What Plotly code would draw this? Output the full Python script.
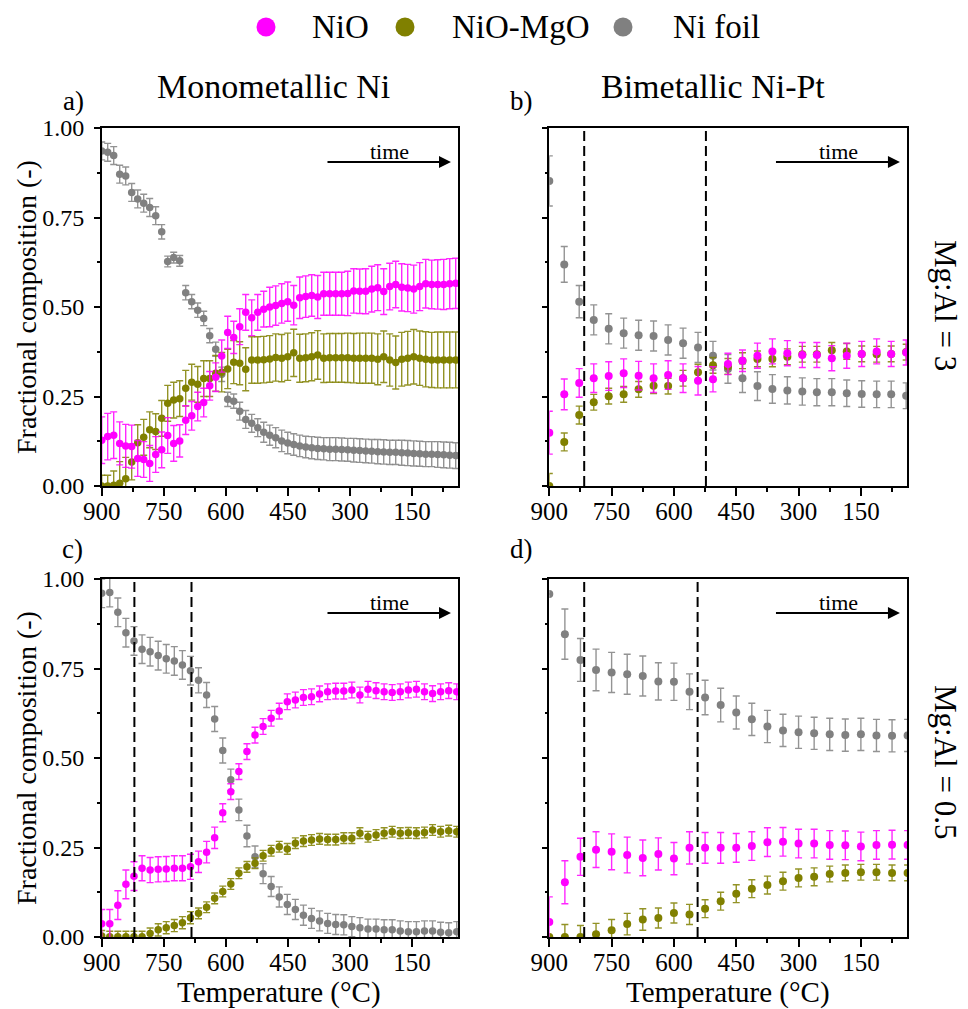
import plotly.graph_objects as go

# ---------------- data ----------------
# Panel a: Monometallic Ni, Mg:Al = 3
T_a = [900, 885.5, 871, 856.5, 842, 827.5, 813, 798.5, 784, 769.5, 755, 740.5, 726, 711.5, 697,
       682.5, 668, 653.5, 639, 624.5, 610, 595.5, 581, 566.5, 552, 537.5, 523, 508.5, 494, 479.5,
       465, 450.5, 436, 421.5, 407, 392.5, 378, 363.5, 349, 334.5, 320, 305.5, 291, 276.5, 262,
       247.5, 233, 218.5, 204, 189.5, 175, 160.5, 146, 131.5, 117, 102.5, 88, 73.5, 59, 44.5]
nio_a = [0.128, 0.138, 0.142, 0.119, 0.112, 0.110, 0.077, 0.074, 0.063, 0.088, 0.101, 0.141, 0.119, 0.126, 0.184,
         0.196, 0.222, 0.233, 0.280, 0.304, 0.363, 0.429, 0.415, 0.445, 0.485, 0.470, 0.485, 0.494, 0.500, 0.504,
         0.510, 0.515, 0.505, 0.526, 0.529, 0.532, 0.528, 0.537, 0.537, 0.537, 0.537, 0.538, 0.545, 0.544, 0.544,
         0.550, 0.554, 0.543, 0.557, 0.563, 0.555, 0.553, 0.550, 0.557, 0.565, 0.563, 0.563, 0.563, 0.565, 0.566]
nio_a_err = [0.065, 0.065, 0.065, 0.06, 0.06, 0.06, 0.05, 0.05, 0.05, 0.05, 0.05, 0.05, 0.05, 0.045, 0.04,
             0.04, 0.04, 0.04, 0.04, 0.04, 0.045, 0.045, 0.045, 0.05, 0.05, 0.05, 0.05, 0.05, 0.055, 0.055,
             0.055, 0.055, 0.055, 0.058, 0.058, 0.058, 0.06, 0.06, 0.06, 0.06, 0.06, 0.062, 0.062, 0.062, 0.063,
             0.064, 0.064, 0.064, 0.065, 0.065, 0.066, 0.066, 0.067, 0.067, 0.068, 0.068, 0.069, 0.07, 0.07, 0.07]
mgo_a = [0.000, 0.000, 0.002, 0.008, 0.020, 0.067, 0.121, 0.136, 0.157, 0.152, 0.189, 0.231, 0.240, 0.244, 0.273,
         0.290, 0.284, 0.300, 0.300, 0.315, 0.318, 0.327, 0.346, 0.343, 0.326, 0.352, 0.352, 0.353, 0.355, 0.359,
         0.357, 0.361, 0.372, 0.357, 0.358, 0.361, 0.366, 0.357, 0.358, 0.358, 0.358, 0.358, 0.357, 0.357, 0.357,
         0.357, 0.354, 0.361, 0.352, 0.345, 0.354, 0.357, 0.361, 0.357, 0.354, 0.352, 0.352, 0.352, 0.352, 0.352]
mgo_a_err = [0.03, 0.03, 0.04, 0.06, 0.06, 0.05, 0.05, 0.05, 0.05, 0.05, 0.05, 0.05, 0.05, 0.05, 0.05,
             0.05, 0.05, 0.05, 0.05, 0.05, 0.055, 0.055, 0.06, 0.06, 0.06, 0.065, 0.065, 0.065, 0.065, 0.066,
             0.066, 0.066, 0.066, 0.067, 0.067, 0.067, 0.068, 0.068, 0.068, 0.068, 0.068, 0.069, 0.069, 0.07, 0.07,
             0.07, 0.071, 0.072, 0.073, 0.074, 0.075, 0.075, 0.076, 0.076, 0.077, 0.077, 0.078, 0.078, 0.078, 0.078]
foil_a = [0.936, 0.932, 0.923, 0.871, 0.866, 0.820, 0.802, 0.790, 0.778, 0.755, 0.710, 0.627, 0.638, 0.629, 0.540,
          0.515, 0.491, 0.468, 0.420, 0.382, 0.312, 0.242, 0.237, 0.209, 0.186, 0.175, 0.163, 0.150, 0.142, 0.135,
          0.126, 0.120, 0.116, 0.112, 0.109, 0.107, 0.105, 0.104, 0.103, 0.103, 0.102, 0.101, 0.100, 0.099, 0.098,
          0.097, 0.096, 0.095, 0.094, 0.094, 0.093, 0.092, 0.091, 0.090, 0.089, 0.089, 0.088, 0.087, 0.086, 0.085]
foil_a_err = [0.025, 0.025, 0.025, 0.025, 0.025, 0.025, 0.025, 0.025, 0.025, 0.025, 0.02, 0.015, 0.015, 0.015, 0.02,
              0.02, 0.02, 0.02, 0.02, 0.02, 0.02, 0.02, 0.02, 0.025, 0.025, 0.025, 0.025, 0.028, 0.028, 0.028,
              0.03, 0.03, 0.03, 0.03, 0.03, 0.031, 0.031, 0.031, 0.032, 0.032, 0.032, 0.032, 0.033, 0.033, 0.033,
              0.033, 0.034, 0.034, 0.034, 0.034, 0.035, 0.035, 0.035, 0.035, 0.035, 0.035, 0.036, 0.036, 0.036, 0.036]

# Panel b: Bimetallic Ni-Pt, Mg:Al = 3
T_b = [900, 864, 828, 793, 757, 721, 685, 649, 614, 578, 542, 506, 470, 435, 399, 363, 327, 291, 256,
       220, 184, 148, 112, 77, 41]
nio_b = [0.149, 0.256, 0.288, 0.301, 0.307, 0.315, 0.308, 0.301, 0.310, 0.301, 0.294, 0.298, 0.341, 0.350,
         0.364, 0.376, 0.371, 0.366, 0.366, 0.357, 0.364, 0.369, 0.376, 0.369, 0.373]
nio_b_err = [0.06, 0.043, 0.04, 0.04, 0.04, 0.04, 0.04, 0.04, 0.04, 0.04, 0.04, 0.035, 0.03, 0.03, 0.035,
             0.035, 0.035, 0.035, 0.035, 0.035, 0.035, 0.035, 0.035, 0.035, 0.035]
mgo_b = [0.000, 0.123, 0.198, 0.234, 0.251, 0.256, 0.270, 0.280, 0.279, 0.301, 0.318, 0.337, 0.334, 0.350,
         0.355, 0.355, 0.361, 0.368, 0.368, 0.379, 0.376, 0.369, 0.368, 0.369, 0.374]
mgo_b_err = [0.035, 0.025, 0.025, 0.022, 0.022, 0.022, 0.022, 0.022, 0.022, 0.022, 0.022, 0.022, 0.022, 0.022,
             0.022, 0.022, 0.022, 0.022, 0.022, 0.022, 0.022, 0.022, 0.022, 0.022, 0.022]
foil_b = [0.852, 0.619, 0.515, 0.464, 0.439, 0.427, 0.421, 0.419, 0.408, 0.399, 0.387, 0.364, 0.327, 0.301,
          0.279, 0.271, 0.267, 0.264, 0.262, 0.262, 0.259, 0.257, 0.256, 0.256, 0.252]
foil_b_err = [0.07, 0.05, 0.045, 0.042, 0.042, 0.042, 0.042, 0.042, 0.042, 0.042, 0.042, 0.04, 0.04, 0.04,
              0.04, 0.04, 0.038, 0.038, 0.038, 0.038, 0.037, 0.037, 0.037, 0.037, 0.036]

# Panel c: Monometallic Ni, Mg:Al = 0.5
T_c = [900, 880.5, 861, 841.5, 822, 802.5, 783, 763.5, 744, 724.5, 705, 685.5, 666, 646.5, 627,
       607.5, 588, 568.5, 549, 529.5, 510, 490.5, 471, 451.5, 432, 412.5, 393, 373.5, 354, 334.5,
       315, 295.5, 276, 256.5, 237, 217.5, 198, 178.5, 159, 139.5, 120, 100.5, 81, 61.5, 42]
nio_c = [0.037, 0.037, 0.089, 0.147, 0.170, 0.192, 0.187, 0.189, 0.190, 0.192, 0.192, 0.196, 0.210, 0.237, 0.277,
         0.347, 0.406, 0.462, 0.518, 0.564, 0.588, 0.611, 0.631, 0.657, 0.662, 0.669, 0.671, 0.679, 0.685, 0.687,
         0.687, 0.690, 0.676, 0.692, 0.688, 0.685, 0.683, 0.685, 0.690, 0.692, 0.685, 0.680, 0.685, 0.688, 0.685]
nio_c_err = [0.04, 0.04, 0.04, 0.04, 0.04, 0.035, 0.035, 0.035, 0.035, 0.035, 0.035, 0.035, 0.03, 0.03, 0.03,
             0.025, 0.022, 0.022, 0.022, 0.022, 0.022, 0.022, 0.022, 0.022, 0.022, 0.022, 0.022, 0.022, 0.022, 0.022,
             0.022, 0.022, 0.022, 0.022, 0.022, 0.022, 0.022, 0.022, 0.022, 0.022, 0.022, 0.022, 0.022, 0.022, 0.022]
mgo_c = [0.003, 0.001, 0.001, 0.001, 0.001, 0.001, 0.010, 0.020, 0.026, 0.032, 0.040, 0.054, 0.066, 0.083, 0.108,
         0.127, 0.148, 0.178, 0.196, 0.206, 0.227, 0.241, 0.252, 0.246, 0.262, 0.268, 0.271, 0.274, 0.272, 0.272,
         0.276, 0.276, 0.290, 0.280, 0.285, 0.290, 0.294, 0.290, 0.291, 0.290, 0.292, 0.299, 0.294, 0.297, 0.294]
mgo_c_err = [0.015, 0.015, 0.015, 0.015, 0.015, 0.015, 0.015, 0.017, 0.017, 0.017, 0.017, 0.017, 0.015, 0.015, 0.015,
             0.015, 0.015, 0.015, 0.015, 0.015, 0.015, 0.015, 0.015, 0.015, 0.015, 0.015, 0.015, 0.015, 0.015, 0.015,
             0.015, 0.015, 0.015, 0.015, 0.015, 0.015, 0.015, 0.015, 0.015, 0.015, 0.015, 0.015, 0.015, 0.015, 0.015]
foil_c = [0.960, 0.962, 0.907, 0.850, 0.827, 0.804, 0.797, 0.786, 0.777, 0.771, 0.760, 0.744, 0.717, 0.676, 0.609,
          0.521, 0.439, 0.355, 0.282, 0.224, 0.177, 0.141, 0.112, 0.091, 0.077, 0.061, 0.052, 0.045, 0.038, 0.035,
          0.034, 0.029, 0.026, 0.022, 0.022, 0.020, 0.020, 0.017, 0.015, 0.015, 0.017, 0.017, 0.013, 0.012, 0.015]
foil_c_err = [0.04, 0.04, 0.04, 0.04, 0.04, 0.04, 0.04, 0.04, 0.04, 0.04, 0.04, 0.04, 0.035, 0.035, 0.035,
              0.035, 0.03, 0.03, 0.03, 0.03, 0.028, 0.028, 0.028, 0.028, 0.028, 0.028, 0.028, 0.028, 0.028, 0.028,
              0.028, 0.028, 0.028, 0.028, 0.028, 0.028, 0.028, 0.028, 0.028, 0.028, 0.028, 0.028, 0.028, 0.028, 0.028]

# Panel d: Bimetallic Ni-Pt, Mg:Al = 0.5
T_d = [900, 862.5, 825, 787.5, 750, 712.5, 675, 637.5, 600, 562.5, 525, 487.5, 450, 412.5, 375, 337.5,
       300, 262.5, 225, 187.5, 150, 112.5, 75, 37.5]
nio_d = [0.042, 0.153, 0.224, 0.244, 0.238, 0.229, 0.221, 0.232, 0.219, 0.249, 0.249, 0.249, 0.249, 0.254,
         0.265, 0.266, 0.261, 0.261, 0.257, 0.256, 0.253, 0.257, 0.258, 0.257]
nio_d_err = [0.07, 0.06, 0.052, 0.05, 0.05, 0.05, 0.05, 0.045, 0.045, 0.045, 0.043, 0.043, 0.04, 0.04,
             0.04, 0.04, 0.04, 0.04, 0.04, 0.04, 0.04, 0.04, 0.04, 0.04]
mgo_d = [0.000, 0.000, 0.000, 0.008, 0.019, 0.036, 0.049, 0.053, 0.067, 0.063, 0.079, 0.100, 0.121, 0.135,
         0.145, 0.156, 0.165, 0.168, 0.176, 0.179, 0.181, 0.181, 0.179, 0.179]
mgo_d_err = [0.0, 0.035, 0.032, 0.03, 0.03, 0.03, 0.03, 0.028, 0.028, 0.028, 0.025, 0.025, 0.025, 0.025,
             0.025, 0.025, 0.025, 0.025, 0.022, 0.022, 0.022, 0.022, 0.022, 0.022]
foil_d = [0.958, 0.846, 0.774, 0.746, 0.739, 0.734, 0.729, 0.714, 0.713, 0.685, 0.669, 0.648, 0.627, 0.608,
          0.588, 0.577, 0.572, 0.569, 0.566, 0.564, 0.566, 0.563, 0.562, 0.563]
foil_d_err = [0.0, 0.07, 0.06, 0.058, 0.056, 0.056, 0.056, 0.052, 0.052, 0.05, 0.048, 0.047, 0.046, 0.045,
              0.045, 0.045, 0.045, 0.045, 0.045, 0.045, 0.045, 0.045, 0.045, 0.045]

# dashed marker lines (temperature)
vlines_b = [816, 523]
vlines_c = [821, 683]
vlines_d = [816, 543]

series_names = ["NiO", "NiO-MgO", "Ni foil"]
colors = ["#FF00FF", "#808000", "#808080"]
err_colors = ["rgba(255,0,255,0.85)", "rgba(128,128,0,0.85)", "rgba(128,128,128,0.85)"]

FONT = "Liberation Serif"

# page geometry: the figure sits 8 px in from the page's top-left corner
W, H, OFF = 960, 1001, 8


def px_x(px):
    return (px - OFF) / W


def px_y(py):
    return 1 - (py - OFF) / H


# ---------------- figure ----------------
fig = go.Figure()

panels = [
    ("x", "y", T_a, [nio_a, mgo_a, foil_a], [nio_a_err, mgo_a_err, foil_a_err], 7.5),
    ("x2", "y2", T_b, [nio_b, mgo_b, foil_b], [nio_b_err, mgo_b_err, foil_b_err], 8),
    ("x3", "y3", T_c, [nio_c, mgo_c, foil_c], [nio_c_err, mgo_c_err, foil_c_err], 7.5),
    ("x4", "y4", T_d, [nio_d, mgo_d, foil_d], [nio_d_err, mgo_d_err, foil_d_err], 8),
]

for xa, ya, T, ys, errs, msize in panels:
    for k in [2, 1, 0]:
        fig.add_trace(go.Scatter(
            x=T, y=ys[k], mode="markers", xaxis=xa, yaxis=ya,
            marker=dict(color=colors[k], size=msize, line=dict(width=0)),
            error_y=dict(type="data", array=errs[k], color=err_colors[k], thickness=1.4, width=3.5),
            showlegend=False, name=series_names[k],
        ))

xdom_l = [px_x(101.7), px_x(458)]
xdom_r = [px_x(549.3), px_x(907)]
ydom_t = [px_y(486), px_y(128)]
ydom_b = [px_y(937), px_y(579)]

xcommon = dict(
    range=[900, 39], tickvals=[900, 750, 600, 450, 300, 150],
    ticks="outside", ticklen=8, tickwidth=1.5, tickcolor="black", ticklabelstandoff=-6,
    minor=dict(tickvals=[825, 675, 525, 375, 225, 75], ticks="outside", ticklen=4, tickwidth=1.5, tickcolor="black"),
    showline=True, linecolor="black", linewidth=1.5, mirror=True,
    showgrid=False, zeroline=False, automargin=False,
    tickfont=dict(family=FONT, size=25, color="black"),
)
ycommon = dict(
    range=[0, 1], tickvals=[0, 0.25, 0.5, 0.75, 1.0], ticktext=["0.00", "0.25", "0.50", "0.75", "1.00"],
    ticks="outside", ticklen=6, tickwidth=1.5, tickcolor="black", ticklabelstandoff=5,
    minor=dict(tickvals=[0.125, 0.375, 0.625, 0.875], ticks="outside", ticklen=3, tickwidth=1.5, tickcolor="black"),
    showline=True, linecolor="black", linewidth=1.5, mirror=True,
    showgrid=False, zeroline=False, automargin=False,
    tickfont=dict(family=FONT, size=24, color="black"),
)

fig.update_layout(
    template=go.layout.Template(),
    width=W, height=H,
    margin=dict(l=0, r=0, t=0, b=0, autoexpand=False),
    paper_bgcolor="white", plot_bgcolor="white",
    font=dict(family=FONT, color="black"),
    xaxis=dict(domain=xdom_l, anchor="y", **xcommon),
    yaxis=dict(domain=ydom_t, anchor="x", **ycommon),
    xaxis2=dict(domain=xdom_r, anchor="y2", **xcommon),
    yaxis2=dict(domain=ydom_t, anchor="x2", showticklabels=False, **ycommon),
    xaxis3=dict(domain=xdom_l, anchor="y3", **xcommon),
    yaxis3=dict(domain=ydom_b, anchor="x3", **ycommon),
    xaxis4=dict(domain=xdom_r, anchor="y4", **xcommon),
    yaxis4=dict(domain=ydom_b, anchor="x4", showticklabels=False, **ycommon),
    showlegend=False,
)

# dashed lines
shapes = []
for xref, yref, vals in [("x2", "y2", vlines_b), ("x3", "y3", vlines_c), ("x4", "y4", vlines_d)]:
    for v in vals:
        shapes.append(dict(type="line", xref=xref, yref=yref + " domain", x0=v, x1=v, y0=0, y1=1,
                           line=dict(color="black", width=2, dash="10px,5px")))

# legend (drawn manually to match the original layout)
legend_cx = [266, 405, 623]
legend_tx = [310, 450, 671]
LEG_Y = 27
for k in range(3):
    r = 9.5
    shapes.append(dict(type="circle", xref="paper", yref="paper",
                       x0=px_x(legend_cx[k] - r), x1=px_x(legend_cx[k] + r),
                       y0=px_y(LEG_Y + r), y1=px_y(LEG_Y - r),
                       fillcolor=colors[k], line=dict(width=0)))
fig.update_layout(shapes=shapes)

ann = []
# time arrows + labels
for xref, yref in [("x", "y"), ("x2", "y2"), ("x3", "y3"), ("x4", "y4")]:
    ann.append(dict(x=56, y=0.905, xref=xref, yref=yref, ax=358, ay=0.905, axref=xref, ayref=yref,
                    text="", showarrow=True, arrowhead=2, arrowsize=1.2, arrowwidth=2, arrowcolor="black"))
    ann.append(dict(x=204, y=0.935, xref=xref, yref=yref, text="time", showarrow=False,
                    font=dict(family=FONT, size=22, color="black")))


def txt(x, y, s, size, angle=0, xanchor="center"):
    ann.append(dict(x=px_x(x), y=px_y(y), xref="paper", yref="paper", text=s, showarrow=False,
                    textangle=angle, xanchor=xanchor, yanchor="middle",
                    font=dict(family=FONT, size=size, color="black")))


for k in range(3):
    txt(legend_tx[k], LEG_Y, series_names[k], 33, xanchor="left")

txt(273, 86, "Monometallic Ni", 34)
txt(713, 86, "Bimetallic Ni-Pt", 34)
txt(73, 101, "a)", 27)
txt(521, 101, "b)", 27)
txt(72, 549, "c)", 27)
txt(521, 549, "d)", 27)
txt(946, 305, "Mg:Al = 3", 31, angle=90)
txt(946, 762, "Mg:Al = 0.5", 31, angle=90)
txt(26, 307, "Fractional composition (-)", 28, angle=-90)
txt(26, 758, "Fractional composition (-)", 28, angle=-90)
txt(279, 992, "Temperature (°C)", 29)
txt(728, 992, "Temperature (°C)", 29)

fig.update_layout(annotations=ann)

fig.write_html("out.html")
